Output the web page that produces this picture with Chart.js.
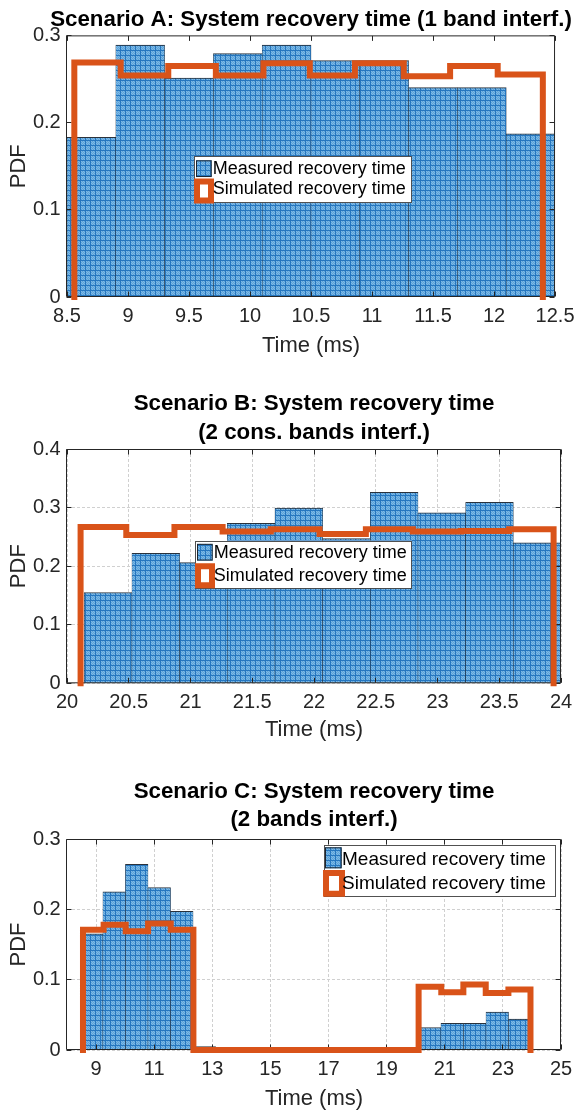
<!DOCTYPE html>
<html><head><meta charset="utf-8">
<script src="https://cdn.jsdelivr.net/npm/chart.js@4.4.1/dist/chart.umd.min.js"></script>
<style>
html,body{margin:0;padding:0;background:#fff;}
#wrap{position:relative;width:582px;height:1115px;overflow:hidden;background:#fff;}
.panel{position:absolute;left:0;width:582px;}
canvas{display:block;}
</style></head><body>
<div id="wrap">
<div class="panel" style="top:0;height:380px"><canvas id="cA" width="582" height="380"></canvas></div>
<div class="panel" style="top:380px;height:380px"><canvas id="cB" width="582" height="380"></canvas></div>
<div class="panel" style="top:760px;height:355px"><canvas id="cC" width="582" height="355"></canvas></div>
</div>
<script>
// ---------------- DATA ----------------
const seriesLabels = ['Measured recovery time', 'Simulated recovery time'];
const xAxisTitle = 'Time (ms)';
const yAxisTitle = 'PDF';

// Panel A
const titleA = ['Scenario A: System recovery time (1 band interf.)'];
const xRangeA = [8.5, 12.5];
const xTicksA = [8.5, 9, 9.5, 10, 10.5, 11, 11.5, 12, 12.5];
const xTickLabelsA = ['8.5', '9', '9.5', '10', '10.5', '11', '11.5', '12', '12.5'];
const yRangeA = [0, 0.3];
const yTicksA = [0, 0.1, 0.2, 0.3];
const yTickLabelsA = ['0', '0.1', '0.2', '0.3'];
const measEdgesA = [8.5, 8.9, 9.3, 9.7, 10.1, 10.5, 10.9, 11.3, 11.7, 12.1, 12.5];
const measPdfA = [0.183, 0.289, 0.251, 0.279, 0.289, 0.271, 0.271, 0.240, 0.240, 0.187];
const simEdgesA = [8.56, 8.94, 9.33, 9.72, 10.11, 10.49, 10.86, 11.26, 11.64, 12.03, 12.40];
const simPdfA = [0.269, 0.254, 0.265, 0.254, 0.268, 0.254, 0.268, 0.253, 0.265, 0.255];

// Panel B
const titleB = ['Scenario B: System recovery time', '(2 cons. bands interf.)'];
const xRangeB = [20, 24];
const xTicksB = [20, 20.5, 21, 21.5, 22, 22.5, 23, 23.5, 24];
const xTickLabelsB = ['20', '20.5', '21', '21.5', '22', '22.5', '23', '23.5', '24'];
const yRangeB = [0, 0.4];
const yTicksB = [0, 0.1, 0.2, 0.3, 0.4];
const yTickLabelsB = ['0', '0.1', '0.2', '0.3', '0.4'];
const measEdgesB = [20.14, 20.526, 20.912, 21.298, 21.684, 22.07, 22.456, 22.842, 23.228, 23.614, 24.0];
const measPdfB = [0.155, 0.222, 0.206, 0.273, 0.299, 0.247, 0.326, 0.291, 0.309, 0.240];
const simEdgesB = [20.11, 20.48, 20.87, 21.26, 21.65, 22.045, 22.42, 22.80, 23.19, 23.58, 23.94];
const simPdfB = [0.267, 0.253, 0.267, 0.259, 0.263, 0.255, 0.263, 0.259, 0.260, 0.263];

// Panel C
const titleC = ['Scenario C: System recovery time', '(2 bands interf.)'];
const xRangeC = [8, 25];
const xTicksC = [9, 11, 13, 15, 17, 19, 21, 23, 25];
const xTickLabelsC = ['9', '11', '13', '15', '17', '19', '21', '23', '25'];
const yRangeC = [0, 0.3];
const yTicksC = [0, 0.1, 0.2, 0.3];
const yTickLabelsC = ['0', '0.1', '0.2', '0.3'];
const measEdgesC = [8.46, 9.236, 10.011, 10.787, 11.562, 12.338, 13.113, 13.889, 14.664, 15.44, 16.215,
                    16.991, 17.766, 18.542, 19.317, 20.093, 20.868, 21.644, 22.419, 23.195, 23.97];
const measPdfC = [0.165, 0.225, 0.264, 0.231, 0.197, 0.005, 0, 0, 0, 0, 0, 0, 0, 0, 0,
                  0.032, 0.038, 0.038, 0.054, 0.044];
const simEdgesC = [8.55, 9.26, 10.02, 10.79, 11.57, 12.35, 20.10, 20.88, 21.64, 22.41, 23.19, 23.95];
const simPdfC = [0.171, 0.178, 0.169, 0.180, 0.171, 0, 0.090, 0.082, 0.093, 0.081, 0.086];

// ---------------- STYLE / HELPERS ----------------
const FONT = "'Liberation Sans', Arial, Helvetica, sans-serif";
const AXIS_COLOR = '#262626';
const ORANGE = '#D95319';

function makePattern(ctx) {
  const t = document.createElement('canvas');
  t.width = 5; t.height = 5;
  const g = t.getContext('2d');
  g.fillStyle = '#58a2db'; g.fillRect(0, 0, 5, 5);
  g.fillStyle = '#80b9e4';
  for (let i = 1; i < 5; i++) for (let j = 1; j < 5; j++) if ((i + j) % 2 === 0) g.fillRect(i, j, 1, 1);
  g.fillStyle = '#2576bf';
  g.fillRect(0, 0, 5, 1); g.fillRect(0, 0, 1, 5);
  return ctx.createPattern(t, 'repeat');
}

function histPoints(edges, vals) {
  return vals.map((v, i) => ({ x: (edges[i] + edges[i + 1]) / 2, y: v }));
}
function stepPoints(edges, vals) {
  const pts = [{ x: edges[0], y: 0 }];
  vals.forEach((v, i) => { pts.push({ x: edges[i], y: v }, { x: edges[i + 1], y: v }); });
  pts.push({ x: edges[edges.length - 1], y: 0 });
  return pts;
}

const titleCenter = {
  id: 'titleCenter',
  afterLayout(chart) {
    const t = chart.titleBlock;
    if (!t) return;
    const cx = (chart.chartArea.left + chart.chartArea.right) / 2;
    t.left = cx - 300; t.right = cx + 300; t.width = 600;
  }
};

const axesBox = {
  id: 'axesBox',
  afterDatasetDraw(chart, args) {
    if (args.meta.type !== 'bar') return;
    const { ctx, chartArea: a, scales: { x, y } } = chart;
    const L = a.left - 0.5, R = a.right - 0.5, T = a.top + 0.5, B = a.bottom - 0.5;
    ctx.save();
    ctx.strokeStyle = AXIS_COLOR;
    ctx.lineWidth = 1;
    ctx.beginPath();
    ctx.rect(L, T, R - L, B - T);
    const tl = 5;
    x.ticks.forEach(t => {
      const p = Math.floor(x.getPixelForValue(t.value)) + 0.5;
      ctx.moveTo(p, B); ctx.lineTo(p, B - tl);
      ctx.moveTo(p, T); ctx.lineTo(p, T + tl);
    });
    y.ticks.forEach(t => {
      const p = Math.floor(y.getPixelForValue(t.value)) + 0.5;
      ctx.moveTo(L, p); ctx.lineTo(L + tl, p);
      ctx.moveTo(R, p); ctx.lineTo(R - tl, p);
    });
    ctx.stroke();
    ctx.restore();
  }
};

const customLegend = {
  id: 'customLegend',
  afterDraw(chart, args, o) {
    const { ctx, chartArea: a } = chart;
    const ds = chart.data.datasets;
    const L = a.left + o.dx, T = a.top + o.dy;
    ctx.save();
    ctx.fillStyle = '#fff';
    ctx.fillRect(L, T, o.w, o.h);
    ctx.strokeStyle = 'rgba(38,38,38,0.8)';
    ctx.lineWidth = 1;
    ctx.strokeRect(Math.round(L) + 0.5, Math.round(T) + 0.5, Math.round(o.w) - 1, Math.round(o.h) - 1);
    ctx.fillStyle = ds[0].backgroundColor;
    ctx.fillRect(L + o.i1.x, T + o.i1.cy - o.i1.h / 2, o.i1.w, o.i1.h);
    ctx.strokeStyle = '#1b2530';
    ctx.strokeRect(L + o.i1.x + 0.5, T + o.i1.cy - o.i1.h / 2 + 0.5, o.i1.w - 1, o.i1.h - 1);
    ctx.fillStyle = '#fff';
    ctx.strokeStyle = ds[1].borderColor;
    ctx.lineWidth = 6;
    ctx.lineJoin = 'miter';
    ctx.beginPath();
    ctx.rect(L + o.i2.x, T + o.i2.cy - o.i2.h / 2, o.i2.w, o.i2.h);
    ctx.fill(); ctx.stroke();
    ctx.fillStyle = '#000';
    ctx.font = o.font + 'px ' + FONT;
    ctx.textAlign = 'left';
    ctx.textBaseline = 'middle';
    ctx.fillText(ds[0].label, L + o.tx, T + o.r1);
    ctx.fillText(ds[1].label, L + o.tx, T + o.r2);
    ctx.restore();
  }
};

function buildChart(id, d, lay) {
  const ctx = document.getElementById(id).getContext('2d');
  const pattern = makePattern(ctx);
  return new Chart(ctx, {
    type: 'bar',
    data: {
      datasets: [
        {
          type: 'bar', label: seriesLabels[0], data: histPoints(d.measEdges, d.measPdf),
          backgroundColor: pattern, borderColor: 'rgba(20,28,38,0.9)',
          borderWidth: { top: 1, left: 0.5, right: 0.5, bottom: 0 }, borderSkipped: false,
          barPercentage: 1, categoryPercentage: 1, order: 2
        },
        {
          type: 'line', label: seriesLabels[1], data: stepPoints(d.simEdges, d.simPdf),
          borderColor: ORANGE, backgroundColor: ORANGE, borderWidth: 6,
          pointRadius: 0, pointHoverRadius: 0, fill: false, tension: 0,
          borderJoinStyle: 'miter', borderCapStyle: 'square', order: 1, clip: false
        }
      ]
    },
    options: {
      responsive: false, animation: false, events: [],
      layout: { padding: { left: 0, right: 21, top: 0, bottom: lay.padBottom } },
      plugins: {
        legend: { display: false },
        tooltip: { enabled: false },
        title: {
          display: true, text: d.title, color: '#000',
          font: { family: FONT, size: 22.3, weight: 'bold', lineHeight: 1.27 },
          padding: { top: lay.titleTop, bottom: lay.titleBottom }
        },
        customLegend: lay.legend
      },
      scales: {
        x: {
          type: 'linear', min: d.xRange[0], max: d.xRange[1], offset: false,
          afterBuildTicks: s => { s.ticks = d.xTicks.map(v => ({ value: v })); },
          ticks: {
            autoSkip: false, maxRotation: 0, minRotation: 0, padding: 7.5, color: AXIS_COLOR,
            font: { family: FONT, size: 20 }, callback: (v, i) => d.xTickLabels[i]
          },
          grid: { display: lay.grid, drawTicks: false, offset: false, color: '#d0d0d0', lineWidth: 1 },
          border: { display: false, dash: [3, 2] },
          title: { display: true, text: xAxisTitle, color: AXIS_COLOR, font: { family: FONT, size: 22 }, padding: { top: 0, bottom: 0 } },
          afterFit: s => { s.height = lay.xh; }
        },
        y: {
          type: 'linear', min: d.yRange[0], max: d.yRange[1],
          afterBuildTicks: s => { s.ticks = d.yTicks.map(v => ({ value: v })); },
          ticks: {
            padding: 6.3, color: AXIS_COLOR, font: { family: FONT, size: 20 },
            callback: (v, i) => d.yTickLabels[i]
          },
          grid: { display: lay.grid, drawTicks: false, color: '#d0d0d0', lineWidth: 1 },
          border: { display: false, dash: [3, 2] },
          title: { display: true, text: yAxisTitle, color: AXIS_COLOR, font: { family: FONT, size: 22 }, padding: { top: 5.8, bottom: 0 } },
          afterFit: s => { s.width = 67; }
        }
      }
    },
    plugins: [titleCenter, axesBox, customLegend]
  });
}

buildChart('cA', {
  title: titleA, xRange: xRangeA, xTicks: xTicksA, xTickLabels: xTickLabelsA,
  yRange: yRangeA, yTicks: yTicksA, yTickLabels: yTickLabelsA,
  measEdges: measEdgesA, measPdf: measPdfA, simEdges: simEdgesA, simPdf: simPdfA
}, {
  titleTop: 5.2, titleBottom: 1.86, padBottom: 20.8, xh: 62.2, grid: false,
  legend: { dx: 127, dy: 120.7, w: 218, h: 47, font: 18, tx: 18.7, r1: 12.8, r2: 32.8,
            i1: { x: 2, w: 15.7, h: 16.7, cy: 12.6 }, i2: { x: 3, w: 14, h: 19, cy: 34.8 } }
});

buildChart('cB', {
  title: titleB, xRange: xRangeB, xTicks: xTicksB, xTickLabels: xTickLabelsB,
  yRange: yRangeB, yTicks: yTicksB, yTickLabels: yTickLabelsB,
  measEdges: measEdgesB, measPdf: measPdfB, simEdges: simEdgesB, simPdf: simPdfB
}, {
  titleTop: 10.1, titleBottom: 2.26, padBottom: 16.5, xh: 60.2, grid: true,
  legend: { dx: 128, dy: 91.7, w: 217, h: 48, font: 18, tx: 18.7, r1: 12.6, r2: 35.8,
            i1: { x: 2, w: 15.7, h: 16.7, cy: 11.5 }, i2: { x: 3, w: 14, h: 19, cy: 35.1 } }
});

buildChart('cC', {
  title: titleC, xRange: xRangeC, xTicks: xTicksC, xTickLabels: xTickLabelsC,
  yRange: yRangeC, yTicks: yTicksC, yTickLabels: yTickLabelsC,
  measEdges: measEdgesC, measPdf: measPdfC, simEdges: simEdgesC, simPdf: simPdfC
}, {
  titleTop: 17.7, titleBottom: 4.66, padBottom: 2.8, xh: 62.2, grid: true,
  legend: { dx: 257, dy: 6, w: 232, h: 52, font: 19, tx: 18, r1: 14.3, r2: 38.8,
            i1: { x: 1, w: 16.7, h: 21, cy: 12.8 }, i2: { x: 2, w: 16, h: 20.7, cy: 38.3 } }
});
</script>
</body></html>
